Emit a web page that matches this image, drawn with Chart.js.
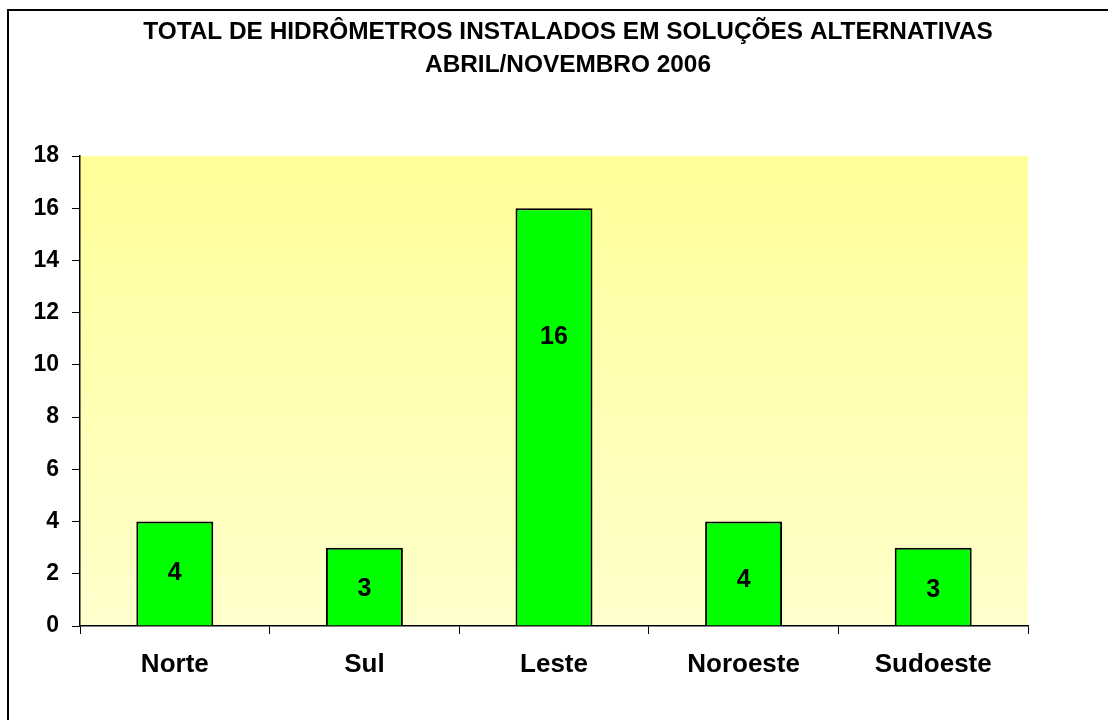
<!DOCTYPE html>
<html>
<head>
<meta charset="utf-8">
<script src="https://cdn.jsdelivr.net/npm/chart.js@4/dist/chart.umd.min.js"></script>
<style>
  html, body { margin: 0; padding: 0; background: #ffffff; }
  #wrap { position: relative; width: 1108px; height: 720px; }
  canvas { display: block; }
</style>
</head>
<body>
<div id="wrap"><canvas id="c" width="1108" height="720"></canvas></div>
<script>
const titleLines = ['TOTAL DE HIDRÔMETROS INSTALADOS EM SOLUÇÕES ALTERNATIVAS', 'ABRIL/NOVEMBRO 2006'];
const categories = ['Norte', 'Sul', 'Leste', 'Noroeste', 'Sudoeste'];
const values = [4, 3, 16, 4, 3];
// value level (in axis units) where each data label sits
const labelAt = [2.05, 1.45, 11.1, 1.8, 1.4];
const yTicks = [0, 2, 4, 6, 8, 10, 12, 14, 16, 18];

const FONT = '"Liberation Sans", Arial, sans-serif';

const frame = {
  id: 'frame',
  beforeDraw(chart) {
    const ctx = chart.ctx;
    const a = chart.chartArea;
    ctx.save();
    const g = ctx.createLinearGradient(0, a.top, 0, a.bottom);
    g.addColorStop(0, '#FFFF99');
    g.addColorStop(1, '#FFFFCC');
    ctx.fillStyle = g;
    ctx.fillRect(a.left, a.top, a.right - a.left, a.bottom - a.top);
    ctx.strokeStyle = '#000000';
    ctx.lineWidth = 2;
    ctx.beginPath();
    ctx.moveTo(8, chart.height + 5);
    ctx.lineTo(8, 10);
    ctx.lineTo(chart.width + 5, 10);
    ctx.stroke();
    ctx.restore();
  },
  afterDatasetsDraw(chart) {
    const ctx = chart.ctx;
    const meta = chart.getDatasetMeta(0);
    const ys = chart.scales.y;
    ctx.save();
    ctx.font = 'bold 25px ' + FONT;
    ctx.fillStyle = '#000000';
    ctx.textAlign = 'center';
    ctx.textBaseline = 'middle';
    meta.data.forEach((bar, i) => {
      ctx.fillText(String(values[i]), bar.x, ys.getPixelForValue(labelAt[i]) + 1);
    });
    ctx.restore();
  }
};

new Chart(document.getElementById('c'), {
  type: 'bar',
  data: {
    labels: categories,
    datasets: [{
      data: values,
      backgroundColor: '#00FF00',
      borderColor: '#000000',
      borderWidth: 2,
      borderSkipped: 'bottom',
      categoryPercentage: 1,
      barPercentage: 0.406
    }]
  },
  options: {
    responsive: false,
    animation: false,
    events: [],
    layout: { padding: { left: 28, right: 0, top: 0, bottom: 0 } },
    plugins: {
      legend: { display: false },
      tooltip: { enabled: false },
      title: {
        display: true,
        text: titleLines,
        color: '#000000',
        font: { family: FONT, size: 24.4, weight: 'bold', lineHeight: 1.38 },
        padding: { top: 15, bottom: 73.7 }
      }
    },
    scales: {
      x: {
        grid: {
          display: true,
          offset: true,
          drawOnChartArea: false,
          drawTicks: true,
          tickLength: 8,
          color: '#000000',
          lineWidth: 1
        },
        border: { display: true, color: '#000000', width: 1.5 },
        ticks: {
          color: '#000000',
          font: { family: FONT, size: 26, weight: 'bold' },
          padding: 15,
          maxRotation: 0
        },
        afterFit(scale) { scale.height = 94; }
      },
      y: {
        min: 0,
        max: 18,
        afterBuildTicks(scale) { scale.ticks = yTicks.map(v => ({ value: v })); },
        grid: {
          display: true,
          drawOnChartArea: false,
          drawTicks: true,
          tickLength: 8,
          color: '#000000',
          lineWidth: 1
        },
        border: { display: true, color: '#000000', width: 1.5 },
        ticks: {
          color: '#000000',
          font: { family: FONT, size: 23, weight: 'bold' },
          padding: 13
        },
        afterFit(scale) { scale.width = 52; }
      },
      yRightSpace: {
        position: 'right',
        display: true,
        min: 0,
        max: 18,
        grid: { display: false, drawTicks: false },
        border: { display: false },
        ticks: { display: false },
        afterFit(scale) { scale.width = 80; }
      }
    }
  },
  plugins: [frame]
});
</script>
</body>
</html>
